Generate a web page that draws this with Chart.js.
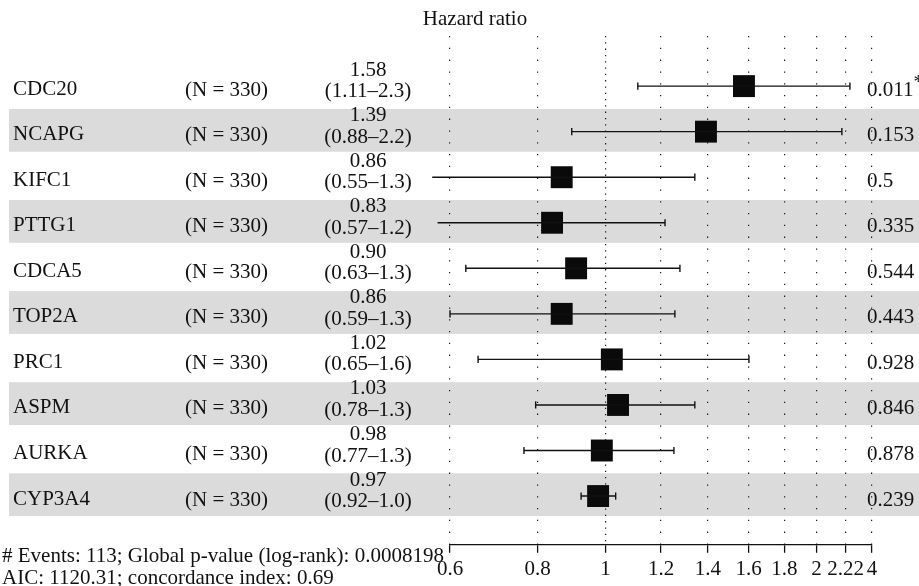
<!DOCTYPE html>
<html>
<head>
<meta charset="utf-8">
<script src="https://cdn.jsdelivr.net/npm/chart.js@4/dist/chart.umd.min.js"></script>
<style>
  html, body { margin: 0; padding: 0; background: #fff; }
  #wrap { width: 919px; height: 586px; }
</style>
</head>
<body>
<div id="wrap"><canvas id="forest"></canvas></div>
<script>
// rows, top to bottom
const genes = ['CDC20', 'NCAPG', 'KIFC1', 'PTTG1', 'CDCA5', 'TOP2A', 'PRC1', 'ASPM', 'AURKA', 'CYP3A4'];
const counts = [330, 330, 330, 330, 330, 330, 330, 330, 330, 330];
const hazard = [1.576, 1.391, 0.866, 0.839, 0.908, 0.866, 1.021, 1.042, 0.988, 0.976];
const hazardText = ['1.58', '1.39', '0.86', '0.83', '0.90', '0.86', '1.02', '1.03', '0.98', '0.97'];
const ciLow = [1.112, 0.895, 0.566, 0.576, 0.632, 0.6, 0.658, 0.795, 0.765, 0.923];
const ciHigh = [2.232, 2.174, 1.341, 1.216, 1.277, 1.256, 1.602, 1.341, 1.252, 1.034];
const ciText = ['(1.11–2.3)', '(0.88–2.2)', '(0.55–1.3)', '(0.57–1.2)', '(0.63–1.3)',
                '(0.59–1.3)', '(0.65–1.6)', '(0.78–1.3)', '(0.77–1.3)', '(0.92–1.0)'];
const pValues = ['0.011', '0.153', '0.5', '0.335', '0.544', '0.443', '0.928', '0.846', '0.878', '0.239'];
const signif = ['*', '', '', '', '', '', '', '', '', ''];

// x axis
const tickValues = [0.6, 0.8, 1, 1.2, 1.4, 1.6, 1.8, 2, 2.2, 2.4];
const tickLabels = ['0.6', '0.8', '1', '1.2', '1.4', '1.6', '1.8', '2', '2.22', '4'];

const titleText = 'Hazard ratio';
const footer = ['# Events: 113; Global p-value (log-rank): 0.0008198',
                'AIC: 1120.31; concordance index: 0.69'];

const FONT = '"Liberation Serif", "DejaVu Serif", serif';
const INK = '#111';

const rowOf = i => i + 1;

let datasets = [];

genes.forEach((g, i) => {
    datasets.push({
        type: 'line',
        data: [{x: ciLow[i], y: rowOf(i)}, {x: ciHigh[i], y: rowOf(i)}],
        borderColor: INK,
        borderWidth: 1.4,
        pointStyle: 'line',
        pointRotation: 90,
        pointRadius: 3.6,
        pointBorderWidth: 1.4,
        pointBorderColor: INK,
        clip: false,
    });
});

datasets.push({
    type: 'scatter',
    data: hazard.map((h, i) => ({x: h, y: rowOf(i)})),
    pointStyle: 'rect',
    pointRadius: 15.5,
    backgroundColor: '#0a0a0a',
    borderWidth: 0,
    clip: false,
});

// grey bands behind every second row
const bandsPlugin = {
    id: 'bands',
    beforeDraw(chart) {
        const {ctx} = chart;
        const y = chart.scales.y;
        ctx.save();
        ctx.fillStyle = '#fff';
        ctx.fillRect(0, 0, chart.width, chart.height);
        ctx.fillStyle = '#dbdbdb';
        genes.forEach((g, i) => {
            if (i % 2 === 1) {
                const top = y.getPixelForValue(rowOf(i) - 0.5);
                const bot = y.getPixelForValue(rowOf(i) + 0.44);
                ctx.fillRect(9, top, chart.width - 9, bot - top);
            }
        });
        ctx.restore();
    }
};

// table text left and right of the plot
const tablePlugin = {
    id: 'table',
    afterDraw(chart) {
        const {ctx} = chart;
        const y = chart.scales.y;
        ctx.save();
        ctx.fillStyle = INK;
        ctx.font = '21px ' + FONT;
        ctx.textBaseline = 'middle';

        genes.forEach((g, i) => {
            const py = y.getPixelForValue(rowOf(i));
            ctx.textAlign = 'left';
            ctx.fillText(g, 13, py + 3);
            ctx.fillText('(N = ' + counts[i] + ')', 185, py + 4);
            ctx.textAlign = 'center';
            ctx.fillText(hazardText[i], 368, py - 16);
            ctx.fillText(ciText[i], 368, py + 5.5);
            ctx.textAlign = 'left';
            ctx.fillText(pValues[i], 867, py + 4);
            if (signif[i]) {
                const w = ctx.measureText(pValues[i]).width;
                ctx.font = '19px ' + FONT;
                ctx.fillText(signif[i], 867 + w, py - 3);
                ctx.font = '21px ' + FONT;
            }
        });

        ctx.textAlign = 'center';
        ctx.fillText(titleText, 475, 19);

        ctx.textAlign = 'left';
        ctx.textBaseline = 'alphabetic';
        ctx.fillText(footer[0], 2, 562);
        ctx.fillText(footer[1], 2, 584);
        ctx.restore();
    }
};

new Chart(document.getElementById('forest'), {
    type: 'scatter',
    data: {datasets: datasets},
    options: {
        responsive: true,
        maintainAspectRatio: false,
        animation: false,
        layout: {padding: {left: 450, right: 47, top: 36, bottom: 0}},
        plugins: {legend: {display: false}, tooltip: {enabled: false}},
        scales: {
            x: {
                type: 'logarithmic',
                min: 0.6,
                max: 2.4,
                afterBuildTicks: (scale) => {
                    scale.ticks = tickValues.map(v => ({value: v}));
                },
                ticks: {
                    autoSkip: false,
                    maxRotation: 0,
                    padding: 4,
                    color: INK,
                    font: {family: FONT, size: 21},
                    callback: (value, index) => tickLabels[index],
                },
                grid: {
                    color: '#1a1a1a',
                    lineWidth: 1.2,
                    tickLength: 8,
                    tickColor: INK,
                    tickWidth: 1.3,
                },
                border: {
                    display: true,
                    color: INK,
                    width: 1.3,
                    dash: (ctx) => (ctx.tick && ctx.tick.value === 1) ? [1.3, 5] : [1.3, 10.5],
                },
            },
            y: {
                type: 'linear',
                display: false,
                reverse: true,
                min: -0.1,
                max: 11.07,
            },
        },
    },
    plugins: [bandsPlugin, tablePlugin],
});
</script>
</body>
</html>
